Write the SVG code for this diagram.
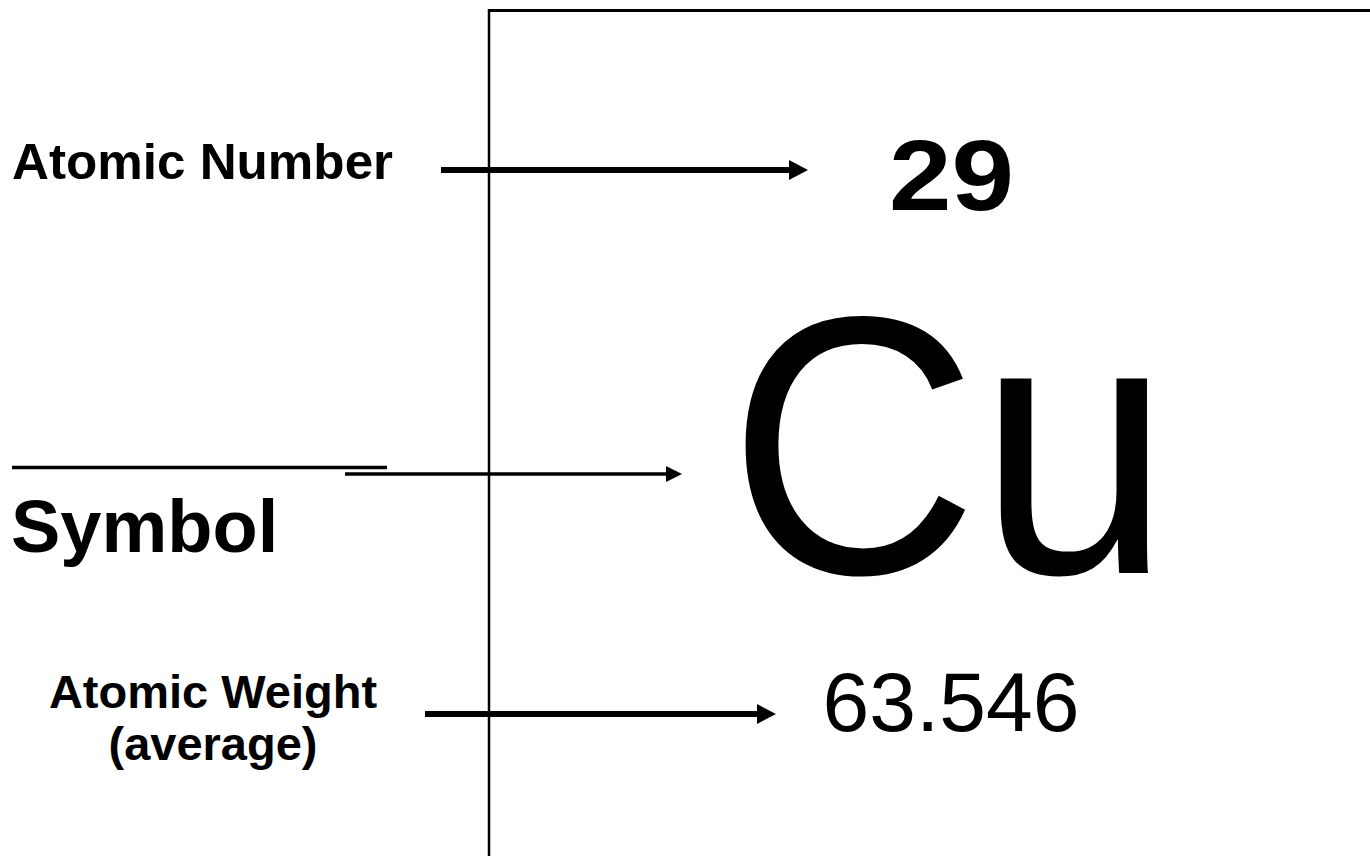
<svg xmlns="http://www.w3.org/2000/svg" width="1370" height="856" viewBox="0 0 1370 856">
  <style>
    .lbl { font-family: "Liberation Sans", Arial, sans-serif; font-weight: bold; fill: #000; }
    .val { font-family: "Liberation Sans", Arial, sans-serif; fill: #000; }
    .conn { stroke: #000; fill: none; }
  </style>
  <defs>
    <marker id="headBig" markerUnits="userSpaceOnUse" markerWidth="19" markerHeight="20" refX="0" refY="10" orient="auto">
      <path d="M0,0 L19,10 L0,20 z" fill="#000"/>
    </marker>
    <marker id="headSmall" markerUnits="userSpaceOnUse" markerWidth="16" markerHeight="16" refX="0" refY="8" orient="auto">
      <path d="M0,0 L16,8 L0,16 z" fill="#000"/>
    </marker>
  </defs>
  <rect width="1370" height="856" fill="#fff"/>

  <g id="element-box">
    <line x1="488" y1="10.5" x2="1370" y2="10.5" stroke="#000" stroke-width="3"/>
    <line x1="489" y1="9" x2="489" y2="856" stroke="#000" stroke-width="2.5"/>
  </g>

  <g id="label-atomic-number">
    <text class="lbl" x="12" y="179" font-size="50" textLength="381" lengthAdjust="spacingAndGlyphs">Atomic Number</text>
  </g>

  <g id="label-symbol">
    <line x1="12" y1="467.5" x2="387" y2="467.5" stroke="#000" stroke-width="3.5"/>
    <text class="lbl" x="11" y="552" font-size="74">Symbol</text>
  </g>

  <g id="label-atomic-weight">
    <text class="lbl" x="213" y="708" font-size="47" text-anchor="middle">Atomic Weight</text>
    <text class="lbl" x="213" y="760" font-size="47" text-anchor="middle">(average)</text>
  </g>

  <g id="value-number">
    <text class="lbl" x="889" y="210" font-size="100" textLength="125" lengthAdjust="spacingAndGlyphs">29</text>
  </g>

  <g id="value-symbol">
    <text class="val" x="728" y="573" font-size="368" textLength="443" lengthAdjust="spacingAndGlyphs">Cu</text>
  </g>

  <g id="value-weight">
    <text class="val" x="822.5" y="731" font-size="84">63.546</text>
  </g>

  <g id="connectors">
    <line class="conn" x1="441" y1="170" x2="789" y2="170" stroke-width="6" marker-end="url(#headBig)"/>
    <line class="conn" x1="345" y1="474" x2="666" y2="474" stroke-width="3.5" marker-end="url(#headSmall)"/>
    <line class="conn" x1="425" y1="714" x2="757" y2="714" stroke-width="6" marker-end="url(#headBig)"/>
  </g>
</svg>
